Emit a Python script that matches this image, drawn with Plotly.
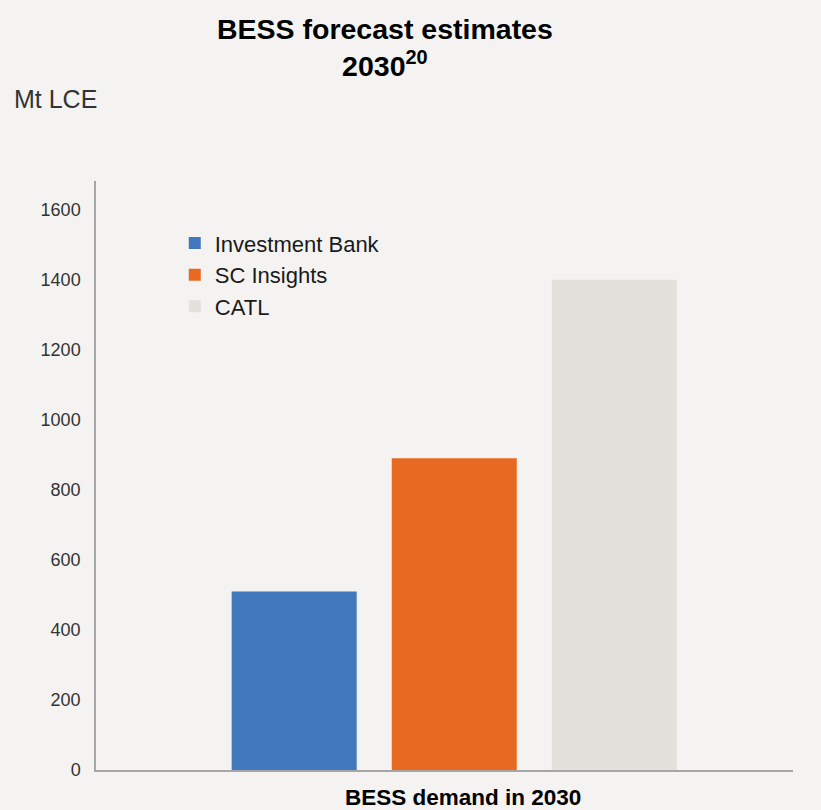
import plotly.graph_objects as go

category = ["BESS demand in 2030"]
series_names = ["Investment Bank", "SC Insights", "CATL"]
series_values = [510, 890, 1400]
series_colors = ["#4177bb", "#e86a22", "#e4e0db"]
y_ticks = [0, 200, 400, 600, 800, 1000, 1200, 1400, 1600]

fig = go.Figure()
for name, val, col in zip(series_names, series_values, series_colors):
    fig.add_trace(go.Bar(x=category, y=[val], name=name, marker_color=col,
                         marker_line_width=0))

bg = "#f4f3f1"
fig.update_layout(
    width=821, height=810,
    paper_bgcolor=bg, plot_bgcolor=bg,
    margin=dict(l=96, r=28, t=181, b=40),
    barmode="group", bargap=0.311, bargroupgap=0.219,
    font=dict(family="Liberation Sans, Arial, sans-serif", color="#333333"),
    legend=dict(x=0.113, y=0.93, xanchor="left", yanchor="top",
                bgcolor="rgba(0,0,0,0)", font=dict(size=22, color="#1a1a1a"),
                itemwidth=30, tracegroupgap=9),
    showlegend=True,
    annotations=[
        dict(text="<b>BESS forecast estimates<br>2030<sup>20</sup></b>",
             xref="paper", yref="paper", x=0.414, y=1.289,
             xanchor="center", yanchor="top", showarrow=False,
             font=dict(size=28.5, color="#000000")),
        dict(text="Mt LCE", xref="paper", yref="paper",
             x=-0.12, y=1.14, xanchor="left", yanchor="middle",
             showarrow=False, font=dict(size=25, color="#333333")),
        dict(text="<b>" + category[0] + "</b>", xref="paper", yref="paper",
             x=0.527, y=-0.047, xanchor="center", yanchor="middle",
             showarrow=False, font=dict(size=22.5, color="#000000")),
    ],
)
fig.update_xaxes(range=[-0.514, 0.486], showline=True, linecolor="#a6a6a6", linewidth=2,
                 ticks="", showgrid=False, zeroline=False, showticklabels=False,
                 automargin=False)
fig.update_yaxes(range=[0, 1682], tickvals=y_ticks, showline=True, linecolor="#a6a6a6",
                 linewidth=1.5, ticks="", showgrid=False, zeroline=False, automargin=False,
                 tickfont=dict(size=18, color="#333333"), ticklabelstandoff=10)

fig.write_html("out.html", config={"displayModeBar": False},
               post_script="document.body.style.margin='0';")
